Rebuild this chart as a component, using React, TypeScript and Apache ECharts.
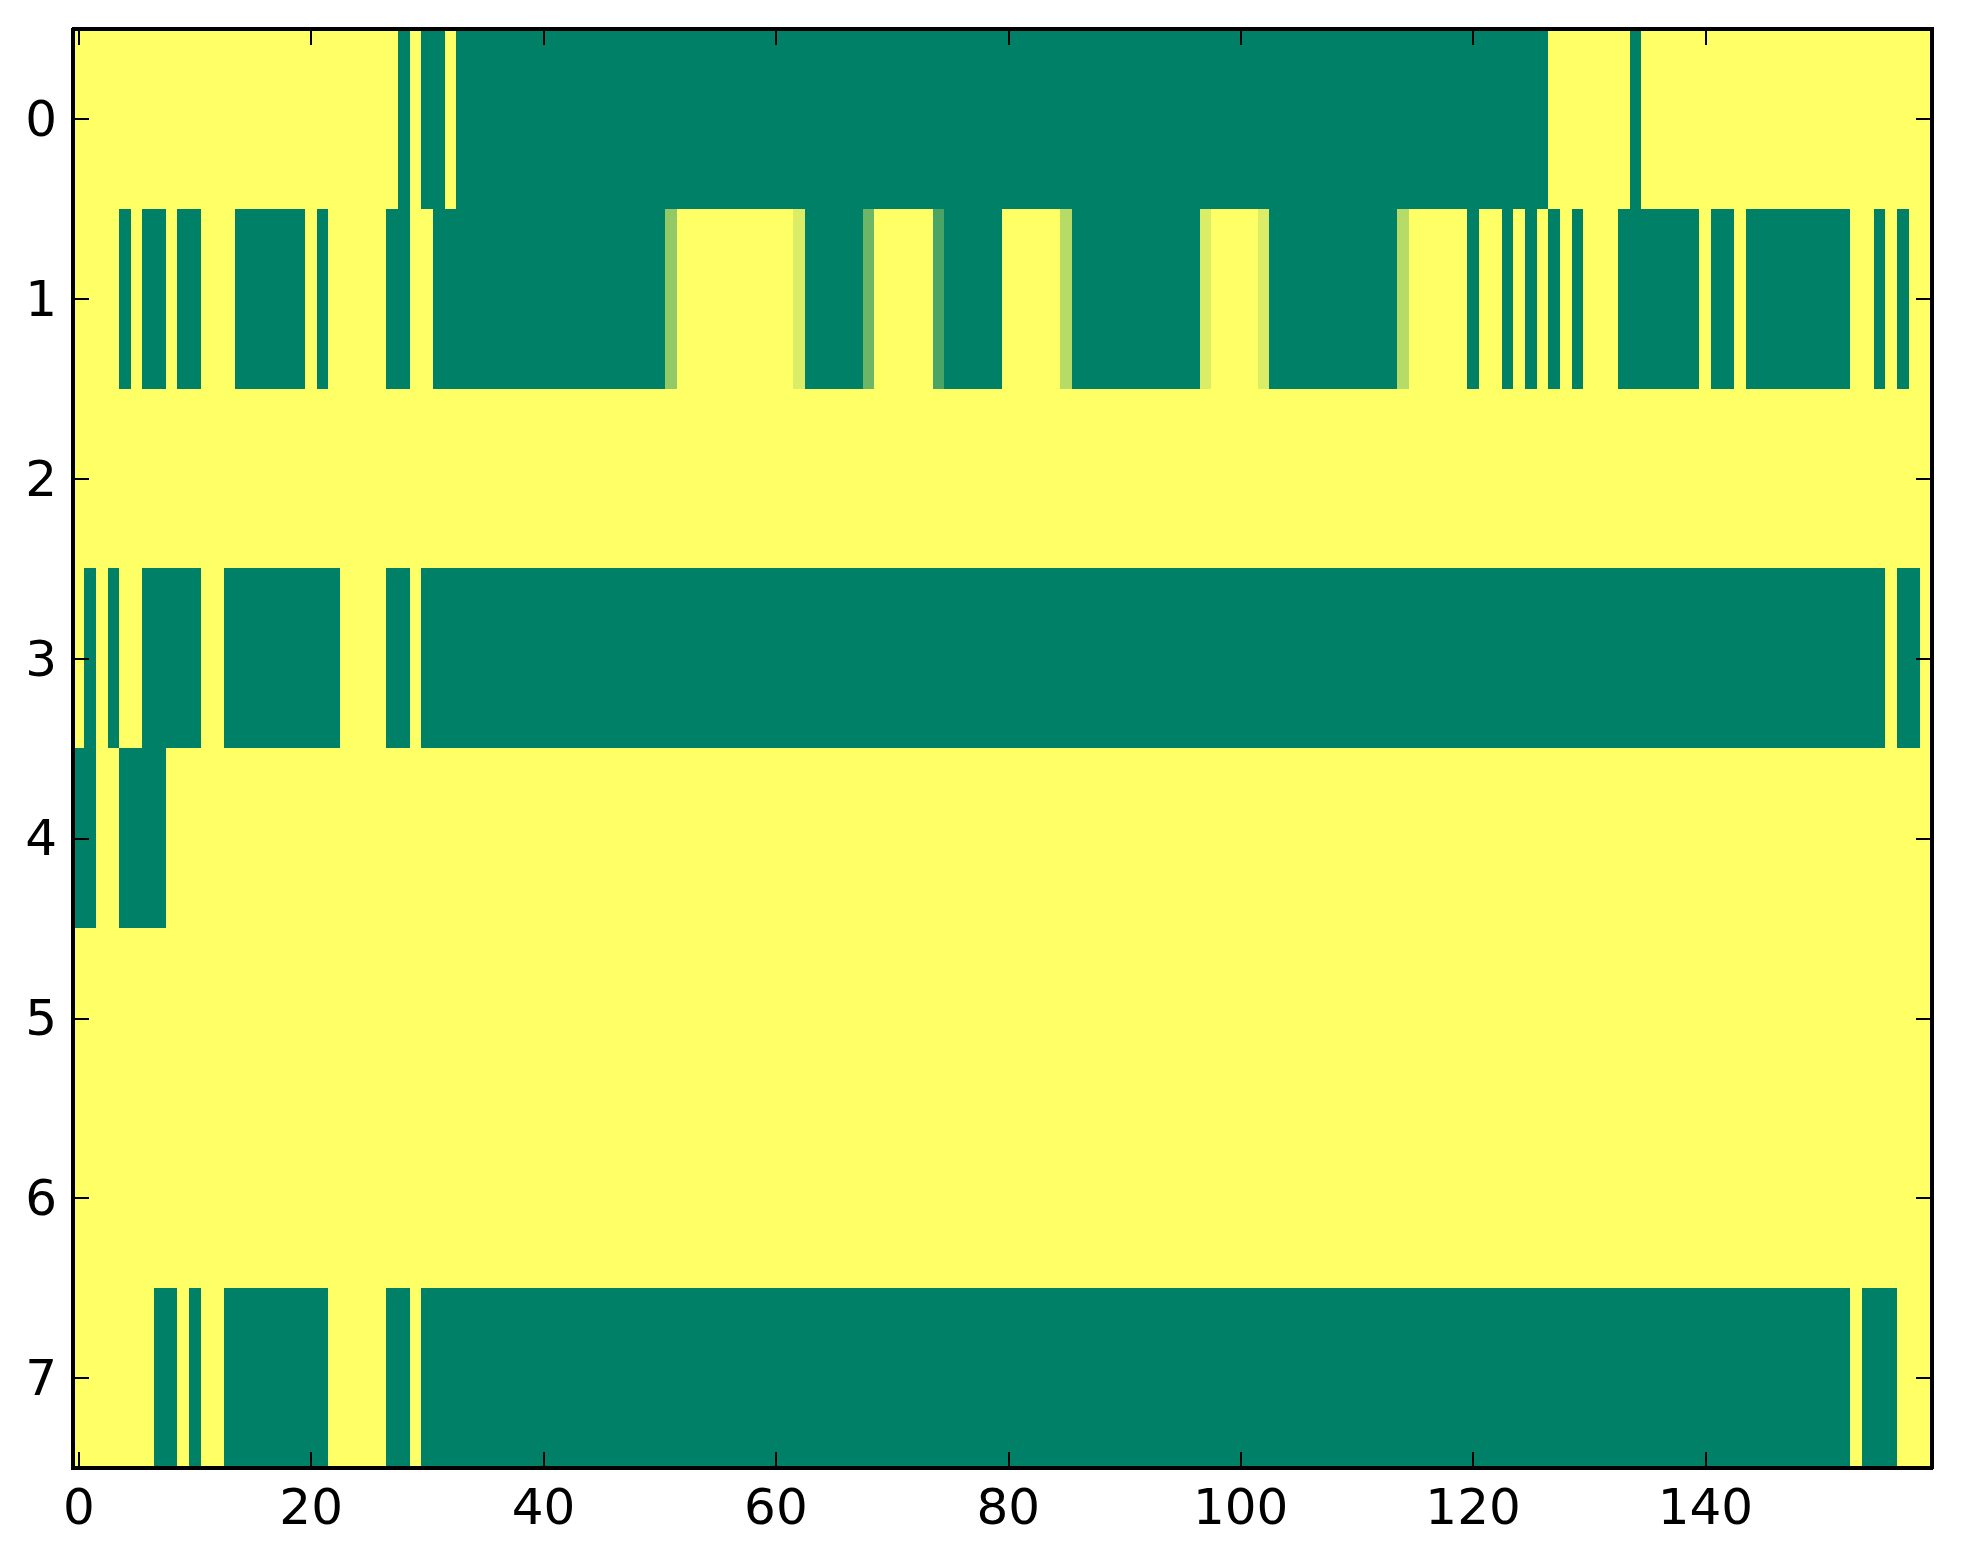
import React, { useEffect, useRef } from "react";
import * as echarts from "echarts";

// Row labels (y categories) and column indices (x categories)
const rowLabels = ["0", "1", "2", "3", "4", "5", "6", "7"];
const colCount = 160;
const colLabels = Array.from({ length: colCount }, (_, i) => String(i));
const xTickValues = [0, 20, 40, 60, 80, 100, 120, 140];

// Cell values per row (0 = green, 1 = yellow)
const row0 = [
  1,1,1,1,1,1,1,1,1,1,1,1,1,1,1,1,1,1,1,1,
  1,1,1,1,1,1,1,1,0,1,0,0,1,0,0,0,0,0,0,0,
  0,0,0,0,0,0,0,0,0,0,0,0,0,0,0,0,0,0,0,0,
  0,0,0,0,0,0,0,0,0,0,0,0,0,0,0,0,0,0,0,0,
  0,0,0,0,0,0,0,0,0,0,0,0,0,0,0,0,0,0,0,0,
  0,0,0,0,0,0,0,0,0,0,0,0,0,0,0,0,0,0,0,0,
  0,0,0,0,0,0,0,1,1,1,1,1,1,1,0,1,1,1,1,1,
  1,1,1,1,1,1,1,1,1,1,1,1,1,1,1,1,1,1,1,1,
];
const row1 = [
  1,1,1,1,0,1,0,0,1,0,0,1,1,1,0,0,0,0,0,0,
  1,0,1,1,1,1,1,0,0,1,1,0,0,0,0,0,0,0,0,0,
  0,0,0,0,0,0,0,0,0,0,0,0.571,1,1,1,1,1,1,1,1,
  1,1,0.857,0,0,0,0,0,0.429,1,1,1,1,1,0.286,0,0,0,0,0,
  1,1,1,1,1,0.714,0,0,0,0,0,0,0,0,0,0,0,0.857,1,1,
  1,1,0.857,0,0,0,0,0,0,0,0,0,0,0,0.714,1,1,1,1,1,
  0,1,1,0,1,0,1,0,1,0,1,1,1,0,0,0,0,0,0,0,
  1,0,0,1,0,0,0,0,0,0,0,0,0,1,1,0,1,0,1,1,
];
const row2 = [
  1,1,1,1,1,1,1,1,1,1,1,1,1,1,1,1,1,1,1,1,
  1,1,1,1,1,1,1,1,1,1,1,1,1,1,1,1,1,1,1,1,
  1,1,1,1,1,1,1,1,1,1,1,1,1,1,1,1,1,1,1,1,
  1,1,1,1,1,1,1,1,1,1,1,1,1,1,1,1,1,1,1,1,
  1,1,1,1,1,1,1,1,1,1,1,1,1,1,1,1,1,1,1,1,
  1,1,1,1,1,1,1,1,1,1,1,1,1,1,1,1,1,1,1,1,
  1,1,1,1,1,1,1,1,1,1,1,1,1,1,1,1,1,1,1,1,
  1,1,1,1,1,1,1,1,1,1,1,1,1,1,1,1,1,1,1,1,
];
const row3 = [
  1,0,1,0,1,1,0,0,0,0,0,1,1,0,0,0,0,0,0,0,
  0,0,0,1,1,1,1,0,0,1,0,0,0,0,0,0,0,0,0,0,
  0,0,0,0,0,0,0,0,0,0,0,0,0,0,0,0,0,0,0,0,
  0,0,0,0,0,0,0,0,0,0,0,0,0,0,0,0,0,0,0,0,
  0,0,0,0,0,0,0,0,0,0,0,0,0,0,0,0,0,0,0,0,
  0,0,0,0,0,0,0,0,0,0,0,0,0,0,0,0,0,0,0,0,
  0,0,0,0,0,0,0,0,0,0,0,0,0,0,0,0,0,0,0,0,
  0,0,0,0,0,0,0,0,0,0,0,0,0,0,0,0,1,0,0,1,
];
const row4 = [
  0,0,1,1,0,0,0,0,1,1,1,1,1,1,1,1,1,1,1,1,
  1,1,1,1,1,1,1,1,1,1,1,1,1,1,1,1,1,1,1,1,
  1,1,1,1,1,1,1,1,1,1,1,1,1,1,1,1,1,1,1,1,
  1,1,1,1,1,1,1,1,1,1,1,1,1,1,1,1,1,1,1,1,
  1,1,1,1,1,1,1,1,1,1,1,1,1,1,1,1,1,1,1,1,
  1,1,1,1,1,1,1,1,1,1,1,1,1,1,1,1,1,1,1,1,
  1,1,1,1,1,1,1,1,1,1,1,1,1,1,1,1,1,1,1,1,
  1,1,1,1,1,1,1,1,1,1,1,1,1,1,1,1,1,1,1,1,
];
const row5 = [
  1,1,1,1,1,1,1,1,1,1,1,1,1,1,1,1,1,1,1,1,
  1,1,1,1,1,1,1,1,1,1,1,1,1,1,1,1,1,1,1,1,
  1,1,1,1,1,1,1,1,1,1,1,1,1,1,1,1,1,1,1,1,
  1,1,1,1,1,1,1,1,1,1,1,1,1,1,1,1,1,1,1,1,
  1,1,1,1,1,1,1,1,1,1,1,1,1,1,1,1,1,1,1,1,
  1,1,1,1,1,1,1,1,1,1,1,1,1,1,1,1,1,1,1,1,
  1,1,1,1,1,1,1,1,1,1,1,1,1,1,1,1,1,1,1,1,
  1,1,1,1,1,1,1,1,1,1,1,1,1,1,1,1,1,1,1,1,
];
const row6 = [
  1,1,1,1,1,1,1,1,1,1,1,1,1,1,1,1,1,1,1,1,
  1,1,1,1,1,1,1,1,1,1,1,1,1,1,1,1,1,1,1,1,
  1,1,1,1,1,1,1,1,1,1,1,1,1,1,1,1,1,1,1,1,
  1,1,1,1,1,1,1,1,1,1,1,1,1,1,1,1,1,1,1,1,
  1,1,1,1,1,1,1,1,1,1,1,1,1,1,1,1,1,1,1,1,
  1,1,1,1,1,1,1,1,1,1,1,1,1,1,1,1,1,1,1,1,
  1,1,1,1,1,1,1,1,1,1,1,1,1,1,1,1,1,1,1,1,
  1,1,1,1,1,1,1,1,1,1,1,1,1,1,1,1,1,1,1,1,
];
const row7 = [
  1,1,1,1,1,1,1,0,0,1,0,1,1,0,0,0,0,0,0,0,
  0,0,1,1,1,1,1,0,0,1,0,0,0,0,0,0,0,0,0,0,
  0,0,0,0,0,0,0,0,0,0,0,0,0,0,0,0,0,0,0,0,
  0,0,0,0,0,0,0,0,0,0,0,0,0,0,0,0,0,0,0,0,
  0,0,0,0,0,0,0,0,0,0,0,0,0,0,0,0,0,0,0,0,
  0,0,0,0,0,0,0,0,0,0,0,0,0,0,0,0,0,0,0,0,
  0,0,0,0,0,0,0,0,0,0,0,0,0,0,0,0,0,0,0,0,
  0,0,0,0,0,0,0,0,0,0,0,0,0,1,0,0,0,1,1,1,
];
const rows = [row0, row1, row2, row3, row4, row5, row6, row7];

const FONT = "DejaVu Sans";

export default function App() {
  const ref = useRef<HTMLDivElement>(null);

  useEffect(() => {
    document.body.style.margin = "0";
    if (!ref.current) return;
    const chart = echarts.init(ref.current, null, { renderer: "svg" });

    const data: [number, number, number][] = [];
    rows.forEach((row, y) => {
      row.forEach((v, x) => data.push([x, y, v]));
    });

    const tickFn = (i: number) => xTickValues.includes(i);
    const axisLine = { show: true, lineStyle: { color: "#000", width: 4 } };
    const tick = { show: true, inside: true, length: 16, lineStyle: { color: "#000", width: 2 } };

    chart.setOption({
      animation: false,
      backgroundColor: "#fff",
      grid: { left: 73, top: 29, width: 1859, height: 1439, containLabel: false },
      xAxis: [
        {
          type: "category",
          data: colLabels,
          position: "bottom",
          z: 10,
          axisLine,
          axisTick: { ...tick, alignWithLabel: true, interval: tickFn },
          axisLabel: {
            interval: tickFn,
            color: "#000",
            fontFamily: FONT,
            fontSize: 50,
            margin: 14,
          },
          splitLine: { show: false },
        },
        {
          type: "category",
          data: colLabels,
          position: "top",
          z: 10,
          axisLine,
          axisTick: { ...tick, alignWithLabel: true, interval: tickFn },
          axisLabel: { show: false },
          splitLine: { show: false },
        },
      ],
      yAxis: [
        {
          type: "category",
          data: rowLabels,
          inverse: true,
          position: "left",
          z: 10,
          axisLine,
          axisTick: { ...tick, alignWithLabel: true },
          axisLabel: {
            color: "#000",
            fontFamily: FONT,
            fontSize: 50,
            margin: 16,
          },
          splitLine: { show: false },
        },
        {
          type: "category",
          data: rowLabels,
          inverse: true,
          position: "right",
          z: 10,
          axisLine,
          axisTick: { ...tick, alignWithLabel: true },
          axisLabel: { show: false },
          splitLine: { show: false },
        },
      ],
      visualMap: {
        show: false,
        type: "continuous",
        min: 0,
        max: 1,
        seriesIndex: 0,
        inRange: { color: ["#008066", "#ffff66"] },
      },
      series: [
        {
          type: "heatmap",
          xAxisIndex: 0,
          yAxisIndex: 0,
          data,
          progressive: 0,
          itemStyle: { borderWidth: 0 },
          emphasis: { disabled: true },
        },
      ],
    });

    return () => chart.dispose();
  }, []);

  return (
    <>
      <style>{".hm-chart svg path { shape-rendering: crispEdges; }"}</style>
      <div className="hm-chart" ref={ref} style={{ width: 1963, height: 1564 }} />
    </>
  );
}
